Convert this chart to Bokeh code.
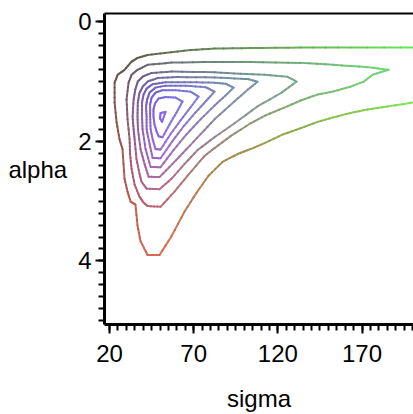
import numpy as np
from bokeh.plotting import figure
from bokeh.models import Range1d, FixedTicker, LinearAxis, ColumnDataSource
from bokeh.embed import file_html
from bokeh.resources import INLINE

# ---- contour lines (sigma, alpha), outermost first ----
c1_sigma = [203.0, 163.2, 133.5, 103.8, 82.4, 68.1, 52.7, 42.6, 36.6, 33.1, 28.9, 24.8, 23.0, 23.0, 24.2, 25.9,
            27.7, 28.9, 30.7, 32.5, 35.4, 36.6, 38.4, 42.6, 49.7, 56.8, 64.6, 71.7, 78.8, 87.1, 96.1, 103.8,
            112.1, 123.4, 133.5, 143.6, 153.1, 163.2, 173.3, 185.2, 203.0]
c1_alpha = [0.438, 0.438, 0.438, 0.446, 0.455, 0.479, 0.529, 0.562, 0.612, 0.673, 0.810, 0.893, 1.025, 1.355,
            1.686, 1.967, 2.132, 2.628, 2.843, 3.008, 3.058, 3.405, 3.669, 3.901, 3.901, 3.587, 3.174, 2.860,
            2.579, 2.347, 2.215, 2.132, 2.033, 1.884, 1.785, 1.678, 1.603, 1.529, 1.471, 1.421, 1.345]

c2_sigma = [185.8, 173.3, 153.1, 133.5, 103.8, 82.4, 56.8, 42.6, 36.6, 33.1, 31.3, 30.1, 30.7, 31.9, 32.2,
            33.1, 34.9, 37.8, 40.2, 42.6, 50.3, 58.6, 66.3, 76.4, 82.4, 91.9, 103.8, 112.7, 123.4, 133.5,
            143.6, 153.1, 163.2, 170.9, 176.3, 185.8]
c2_alpha = [0.810, 0.765, 0.727, 0.694, 0.678, 0.678, 0.689, 0.727, 0.810, 0.893, 1.025, 1.306, 1.636, 1.967,
            2.215, 2.463, 2.727, 2.926, 3.025, 3.083, 3.096, 2.843, 2.579, 2.248, 2.116, 1.917, 1.702, 1.570,
            1.446, 1.322, 1.223, 1.169, 1.091, 1.008, 0.893, 0.810]

c3_sigma = [131.1, 125.8, 112.1, 97.8, 82.4, 56.8, 44.8, 39.8, 36.8, 35.3, 34.3, 33.7, 34.3, 34.9, 36.0, 37.8,
            39.0, 42.0, 49.7, 56.8, 64.6, 72.3, 82.4, 94.3, 107.9, 122.2, 131.1]
c3_alpha = [1.008, 0.926, 0.893, 0.876, 0.851, 0.838, 0.864, 0.921, 1.003, 1.140, 1.306, 1.587, 1.802, 1.967,
            2.298, 2.545, 2.678, 2.793, 2.802, 2.628, 2.380, 2.149, 1.934, 1.702, 1.421, 1.190, 1.008]

c4_sigma = [107.9, 102.6, 98.3, 82.4, 60.4, 48.7, 42.8, 39.8, 37.8, 36.8, 36.6, 36.9, 38.4, 40.8, 43.2, 49.7,
            57.4, 65.8, 74.1, 82.4, 94.3, 102.2, 107.9]
c4_alpha = [1.008, 0.967, 0.959, 0.937, 0.931, 0.947, 1.003, 1.086, 1.195, 1.355, 1.587, 1.802, 2.132, 2.380,
            2.595, 2.600, 2.380, 2.132, 1.884, 1.636, 1.334, 1.140, 1.008]

c5_sigma = [93.7, 88.9, 82.4, 68.1, 53.3, 45.6, 42.0, 40.2, 39.3, 39.3, 39.6, 41.4, 44.4, 50.3, 58.0, 65.8,
            74.1, 82.4, 88.9, 93.7]
c5_alpha = [1.107, 1.041, 1.025, 1.017, 1.017, 1.050, 1.124, 1.223, 1.355, 1.587, 1.802, 2.132, 2.430, 2.435,
            2.149, 1.884, 1.636, 1.405, 1.240, 1.107]

c6_sigma = [82.4, 77.0, 65.2, 53.3, 47.3, 43.8, 42.3, 41.7, 42.0, 42.0, 43.8, 45.6, 50.3, 57.4, 64.0, 71.1,
            77.6, 82.4]
c6_alpha = [1.174, 1.099, 1.074, 1.074, 1.107, 1.190, 1.306, 1.421, 1.587, 1.802, 2.050, 2.281, 2.286, 2.000,
            1.752, 1.521, 1.322, 1.174]

c7_sigma = [72.9, 68.1, 59.2, 51.5, 47.3, 45.0, 44.1, 44.1, 44.4, 45.6, 47.3, 50.3, 56.2, 62.2, 68.1, 72.9]
c7_alpha = [1.256, 1.174, 1.149, 1.149, 1.190, 1.273, 1.388, 1.587, 1.802, 1.967, 2.132, 2.140, 1.884, 1.653,
            1.438, 1.256]

c8_sigma = [63.4, 59.2, 53.3, 49.1, 47.0, 46.1, 46.1, 46.7, 47.9, 49.1, 51.5, 55.7, 59.8, 63.4]
c8_alpha = [1.339, 1.273, 1.264, 1.289, 1.372, 1.471, 1.587, 1.719, 1.835, 1.917, 1.934, 1.719, 1.521, 1.339]

c9_sigma = [50.3, 53.3, 51.2, 50.0, 50.3]
c9_alpha = [1.529, 1.512, 1.678, 1.620, 1.529]

x_major = [20, 70, 120, 170]
y_major = [0, 2, 4]

contours = [(c1_sigma, c1_alpha), (c2_sigma, c2_alpha), (c3_sigma, c3_alpha), (c4_sigma, c4_alpha),
            (c5_sigma, c5_alpha), (c6_sigma, c6_alpha), (c7_sigma, c7_alpha), (c8_sigma, c8_alpha),
            (c9_sigma, c9_alpha)]

# colour: red from alpha, green from sigma, blue from contour level
def colour(s, a, tz):
    ta = min(max((a - 0.45) / 3.5, 0.0), 1.0)
    ts = min(max((s - 20.0) / 180.0, 0.0), 1.0)
    r = 0.35 + 0.5 * ta
    g = 0.29 + 0.6 * ts
    b = 0.28 + 0.66 * tz ** 0.7
    return "#%02x%02x%02x" % (int(r * 255), int(g * 255), int(b * 255))

x0, y0, x1, y1, cols = [], [], [], [], []
n = len(contours)
SUB = 4
for k, (sx, ay) in enumerate(contours):
    tz = k / (n - 1)
    for i in range(len(sx) - 1):
        for j in range(SUB):
            t0, t1 = j / SUB, (j + 1) / SUB
            xa = sx[i] + (sx[i + 1] - sx[i]) * t0
            ya = ay[i] + (ay[i + 1] - ay[i]) * t0
            xb = sx[i] + (sx[i + 1] - sx[i]) * t1
            yb = ay[i] + (ay[i + 1] - ay[i]) * t1
            x0.append(xa); y0.append(ya); x1.append(xb); y1.append(yb)
            cols.append(colour((xa + xb) / 2, (ya + yb) / 2, tz))

src = ColumnDataSource(dict(x0=x0, y0=y0, x1=x1, y1=y1, c=cols))

p = figure(width=413, height=414, output_backend="svg", toolbar_location=None,
           x_range=Range1d(17.0, 200.6), y_range=Range1d(5.06, -0.13),
           min_border_left=104, min_border_right=0, min_border_top=13, min_border_bottom=87)
p.grid.visible = False
p.outline_line_color = None
p.background_fill_color = "white"
p.border_fill_color = "white"

p.segment(x0="x0", y0="y0", x1="x1", y1="y1", line_color="c", line_width=2,
          line_cap="round", line_alpha=0.9, source=src)

p.xaxis.ticker = FixedTicker(ticks=x_major, minor_ticks=list(range(20, 201, 5)))
p.yaxis.ticker = FixedTicker(ticks=y_major, minor_ticks=[round(0.2 * i, 1) for i in range(0, 26)])
p.xaxis.axis_label = "sigma"
p.yaxis.axis_label = "alpha"
p.yaxis.axis_label_orientation = "horizontal"

for ax in (p.xaxis[0], p.yaxis[0]):
    ax.axis_line_width = 3
    ax.axis_line_color = "black"
    ax.major_tick_line_width = 2
    ax.minor_tick_line_width = 2
    ax.major_tick_out = 9
    ax.major_tick_in = 0
    ax.minor_tick_out = 6
    ax.minor_tick_in = 0
    ax.major_label_text_font = "Liberation Sans"
    ax.major_label_text_font_size = "24px"
    ax.major_label_text_color = "black"
    ax.axis_label_text_font = "Liberation Sans"
    ax.axis_label_text_font_size = "24px"
    ax.axis_label_text_font_style = "normal"
    ax.axis_label_text_color = "black"

p.xaxis.major_label_standoff = 11
p.xaxis.axis_label_standoff = 20
p.yaxis.major_label_standoff = 4
p.yaxis.axis_label_standoff = 8

top = LinearAxis(ticker=FixedTicker(ticks=[]), major_label_text_font_size="0px",
                 axis_line_width=2, axis_line_color="black",
                 major_tick_out=0, major_tick_in=0, minor_tick_out=0, minor_tick_in=0)
p.add_layout(top, "above")

open("out.html", "w").write(file_html(p, INLINE))
